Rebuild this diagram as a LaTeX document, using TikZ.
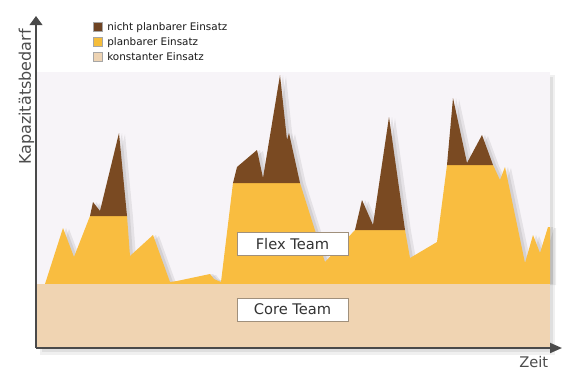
\documentclass[tikz,border=0pt]{standalone}
\usepackage{fontspec}
\setmainfont{DejaVu Sans}
\usetikzlibrary{arrows.meta}
\definecolor{bgl}{HTML}{F7F4F8}
\definecolor{flexy}{HTML}{F9BD40}
\definecolor{brownu}{HTML}{7A4A22}
\definecolor{beige}{HTML}{F0D4B2}
\definecolor{axisc}{HTML}{4A4A4A}
\definecolor{boxb}{HTML}{A0907C}
\definecolor{legbrown}{HTML}{6F4423}
\definecolor{legyellow}{HTML}{F5BD3A}
\definecolor{legbeige}{HTML}{EDD3B3}
\begin{document}
\begin{tikzpicture}[x=0.75pt,y=-0.75pt,
  legtext/.style={anchor=base west, inner sep=0pt, font=\fontsize{7.8}{9}\selectfont, text=black!90},
  legsq/.style={minimum width=6.9pt, minimum height=6.9pt, inner sep=0pt, draw=black!35, line width=0.3pt},
  teambox/.style={draw=boxb, fill=white, minimum width=83.25pt, minimum height=17.4pt, inner sep=0pt, line width=0.6pt, font=\fontsize{11}{13}\selectfont, text=black!80},
  axisline/.style={draw=axisc, line width=1.4pt},
  axislabel/.style={inner sep=0pt, font=\fontsize{12}{14}\selectfont, text=black!70}
]
\useasboundingbox (0,0) rectangle (563,369);
\fill[white] (0,0) rectangle (563,369);
\def\yellowpath{(45,284) -- (63,228) -- (74,257) -- (90,216) -- (127,216) -- (130,256) -- (153,235) -- (170,282) -- (177,281) -- (210,274) -- (214,279) -- (221,282) -- (233,183) -- (300,183) -- (325,262) -- (355,230) -- (405,230) -- (410,258) -- (437,242) -- (447,165) -- (493,165) -- (500,180) -- (505,167) -- (525,263) -- (533,235) -- (540,253) -- (548,227) -- (550,227) -- (550,284) -- cycle}
\def\brownA{(90,216) -- (93,202) -- (100,211) -- (119,133) -- (127,216) -- cycle}
\def\brownB{(233,183) -- (237,167) -- (257,150) -- (263,178) -- (280,75) -- (287,140) -- (289,133) -- (300,183) -- cycle}
\def\brownC{(355,230) -- (362,200) -- (373,225) -- (389,117) -- (405,230) -- cycle}
\def\brownD{(447,165) -- (453,98) -- (467,163) -- (482,135) -- (493,165) -- cycle}
% plot shadow
\fill[black, opacity=0.06] (40,75) rectangle (555,355);
\fill[black, opacity=0.07] (42,77) rectangle (553,352);
% plot background
\fill[bgl] (37,72) rectangle (550,348);
% mountain shadows
\fill[black, opacity=0.07, shift={(6,1)}] \yellowpath \brownA \brownB \brownC \brownD;
\fill[black, opacity=0.08, shift={(3,0)}] \yellowpath \brownA \brownB \brownC \brownD;
% areas
\fill[flexy] \yellowpath;
\fill[brownu] \brownA;
\fill[brownu] \brownB;
\fill[brownu] \brownC;
\fill[brownu] \brownD;
\fill[beige] (37,284) rectangle (550,348);
% axes
\coordinate (o) at (36,348);
\coordinate (ytop) at (36,16);
\coordinate (xend) at (562,348);
\draw[axisline, -{Triangle[length=6.8pt, width=9.5pt]}] (o) -- (ytop);
\draw[axisline, -{Triangle[length=9pt, width=7.5pt]}] (o) -- (xend);
% labels
\node[axislabel, rotate=90, anchor=base] (ylab) at (31,97) {Kapazitätsbedarf};
\node[axislabel, anchor=base west, font=\fontsize{11}{13}\selectfont] (xlab) at (519,367) {Zeit};
% legend
\node[legsq, fill=legbrown] (s1) at (97.5,26.5) {};
\node[legsq, fill=legyellow] (s2) at (97.5,41.5) {};
\node[legsq, fill=legbeige] (s3) at (97.5,57) {};
\node[legtext] (l1) at (107,30) {nicht planbarer Einsatz};
\node[legtext] (l2) at (107,45) {planbarer Einsatz};
\node[legtext] (l3) at (107,60.5) {konstanter Einsatz};
% team boxes
\node[teambox] (flex) at (292.5,244) {Flex Team};
\node[teambox] (core) at (292.5,309.5) {Core Team};
\end{tikzpicture}
\end{document}
